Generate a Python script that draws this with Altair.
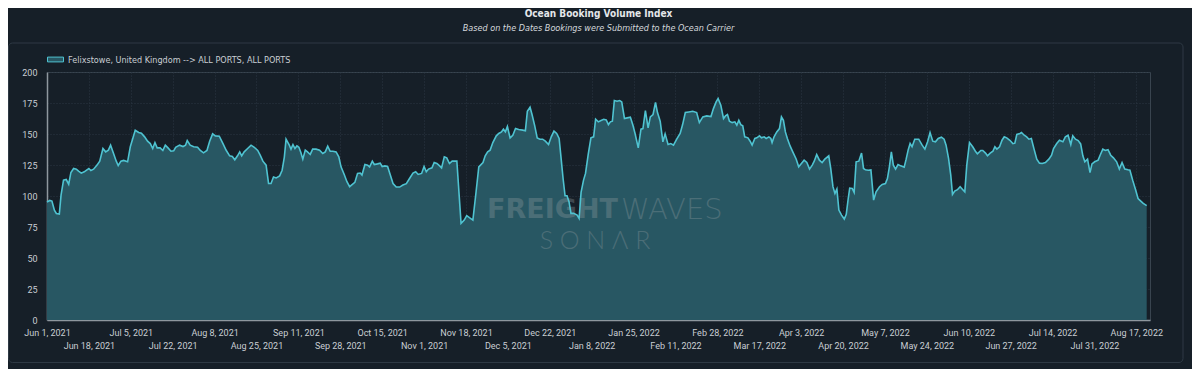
import altair as alt
import pandas as pd

# ---------------- data ----------------
start_date = "2021-06-01"
series_name = "Felixstowe, United Kingdom --> ALL PORTS, ALL PORTS"

# days after Jun 1, 2021 (read from the x position of each vertex)
day_offset = [
    0.0, 1.1, 2.0, 3.0, 3.8, 5.0, 5.7, 6.7, 7.8, 8.8, 9.7, 10.8, 11.9, 12.8, 13.9, 15.1, 16.2, 17.0, 17.8, 18.9,
    20.3, 21.4, 22.7, 23.8, 24.9, 25.8, 27.0, 28.1, 28.9, 30.0, 31.1, 32.7, 33.8, 35.8, 37.2, 38.3, 39.6, 40.8,
    41.9, 42.9, 43.8, 44.7, 45.9, 47.0, 48.0, 49.1, 50.3, 51.4, 52.2, 53.8, 55.2, 56.2, 56.9, 58.1, 59.5, 61.1,
    62.2, 63.5, 64.9, 66.0, 67.2, 68.3, 69.9, 71.4, 72.7, 74.1, 75.2, 76.2, 77.3, 78.2, 79.0, 80.0, 81.4, 82.8,
    84.1, 85.5,
    86.5, 87.6, 88.9, 89.9, 90.9, 91.9, 93.0, 94.4, 95.4, 96.3, 97.0, 98.2, 99.0, 99.8, 100.6, 101.4, 102.2,
    103.0, 103.8, 104.8, 105.7, 106.8, 107.8, 109.2, 110.6, 111.9, 112.9, 113.9, 114.9, 116.0, 117.3, 118.4,
    119.3, 120.6, 121.7, 122.8, 123.9, 124.9, 126.0, 127.1, 127.8, 129.0, 130.1, 130.9, 132.0, 132.8, 134.1,
    135.2, 136.0, 137.1, 138.2, 139.3, 140.4, 141.7, 143.1, 144.4, 145.8, 147.1, 148.5, 149.6, 150.6, 152.0,
    153.0, 153.9, 154.8, 156.2, 157.1, 158.2, 159.3, 160.1, 161.2, 162.2, 163.3, 164.4, 165.5, 166.3, 168.0,
    169.3, 170.3, 171.4, 172.8, 174.1, 175.2,
    176.9, 177.8, 178.8, 179.8, 180.9, 182.3, 183.3, 184.4, 185.2, 186.0, 186.8, 187.9, 189.0, 190.1, 191.4,
    193.0, 194.1, 194.9, 196.0, 196.8, 197.9, 198.9, 200.0, 201.1, 202.2, 203.5, 204.6, 205.7, 206.8, 207.8,
    208.6, 209.4, 210.2, 211.0, 211.8, 212.6, 213.7, 215.1, 215.9, 216.7, 217.7, 218.5, 219.6, 220.7, 221.8,
    222.6, 223.7, 224.8, 225.9, 226.9, 227.8, 228.6, 229.4, 230.2, 231.3, 232.4, 233.2, 234.3, 235.4, 236.7,
    237.8, 238.6, 239.9, 241.0, 241.8, 242.8, 243.9, 244.8, 245.9, 246.9, 247.7, 248.8, 249.9, 250.8, 252.0,
    253.1, 254.2, 255.5, 256.9, 257.9, 259.0, 260.4, 262.0, 263.6, 264.7,
    266.1, 267.7, 269.4, 270.4, 271.5, 272.3, 273.4, 274.5, 275.3, 276.1, 276.9, 278.0, 279.1, 279.9, 280.7,
    281.5, 282.3, 283.1, 284.4, 285.3, 286.1, 287.2, 288.0, 289.1, 289.9, 291.0, 291.8, 292.9, 293.7, 294.2,
    295.0, 296.1, 297.2, 298.0, 298.8, 299.6, 300.4, 301.5, 302.6, 304.0, 305.0, 306.1, 307.2, 308.3, 309.4,
    310.5, 311.3, 312.3, 313.4, 314.5, 315.6, 317.2, 318.0, 318.9, 319.7, 320.5, 321.3, 322.4, 323.5, 324.3,
    325.1, 325.7, 326.7, 327.5, 328.3, 329.4, 330.5, 331.3, 332.1, 333.2, 334.3, 335.4, 336.4, 337.8, 338.9,
    340.2, 341.0, 341.8, 342.6, 343.4, 344.3, 345.3, 346.4, 347.8, 348.6, 349.4, 350.2, 351.0, 352.1, 353.7,
    355.1, 356.2, 357.3, 358.3, 359.4, 360.5, 361.6, 362.9, 364.0, 364.8, 365.8, 366.7, 367.4, 368.3, 369.4,
    370.5, 371.6, 372.4, 373.2, 374.3, 375.6, 376.7, 377.5, 378.9, 379.7, 380.8, 381.6, 382.7, 383.8, 384.6,
    385.4, 386.5, 387.5, 388.4, 389.4, 390.8, 391.9, 392.7, 393.5, 394.8, 395.4, 396.5, 397.5, 398.4, 399.4,
    400.5, 401.6, 402.7, 403.8, 405.1, 406.5, 407.6, 408.4, 409.7, 410.8, 412.2, 413.2, 414.3, 415.4, 416.2,
    417.3, 418.4, 419.4, 420.3, 421.1, 422.2, 423.2, 424.0, 425.1, 426.5, 427.3, 428.4, 429.4, 430.5, 431.6,
    432.7, 434.0, 435.1, 436.2, 437.3, 438.6, 439.4, 440.5, 441.6, 442.7, 443.8, 444.8, 446.2,
]

booking_index = [
    95.0, 96.4, 95.9, 88.6, 85.9, 85.4, 100.7, 112.8, 113.3, 109.5, 119.0, 122.2, 121.6, 120.0, 118.4, 119.5,
    121.1, 122.2, 120.6, 121.6, 124.9, 128.1, 138.3, 135.6, 137.0, 141.0, 134.3, 128.1, 124.6, 128.1, 128.7,
    127.6, 139.7, 153.0, 151.2, 150.6, 147.7, 144.2, 142.3, 138.3, 143.1, 138.8, 138.8, 136.7, 141.0, 138.8,
    136.1, 136.4, 139.3, 141.0, 139.9, 141.0, 144.7, 141.0, 139.7, 139.3, 136.7, 134.8, 136.7, 144.2, 150.1,
    148.5, 148.2, 142.3, 136.9, 132.4, 131.9, 129.2, 132.4, 135.6, 132.4, 135.6, 138.3, 141.0, 139.3, 136.7,
    132.9, 128.1, 124.9, 110.1, 110.1, 115.4, 114.6, 116.2, 120.8, 131.4, 145.8, 141.5, 137.8, 141.5, 138.3,
    140.4, 139.3, 135.1, 129.7, 137.0, 135.6, 133.5, 137.8, 137.8, 137.0, 134.3, 135.6, 140.2, 136.1, 136.1,
    135.6, 131.6, 123.5, 117.4, 111.5, 107.5, 109.3, 111.0, 118.2, 118.5, 116.9, 125.4, 124.9, 123.5, 128.1,
    125.4, 125.9, 126.5, 123.8, 124.3, 123.8, 116.9, 110.1, 107.2, 107.2, 108.8, 109.9, 114.1, 118.5, 119.6,
    117.4, 118.2, 123.8, 119.6, 121.7, 122.7, 127.0, 126.2, 124.3, 122.7, 131.6, 130.8, 126.2, 128.1, 128.1,
    128.1, 77.9, 80.6, 84.1, 82.5, 80.6, 103.4, 123.5,
    127.0, 132.4, 135.6, 137.0, 143.1, 148.5, 150.4, 151.7, 153.9, 151.7, 156.0, 146.9, 149.0, 154.4, 153.6,
    153.1, 152.6, 168.3, 171.6, 165.7, 156.6, 146.9, 145.8, 145.8, 144.2, 141.5, 147.7, 152.3, 150.4, 146.4,
    130.3, 114.1, 100.2, 100.2, 95.4, 86.0, 86.0, 84.6, 81.9, 102.9, 112.8, 118.2, 133.5, 146.9, 147.7,
    161.9, 159.8, 160.9, 161.9, 161.4, 157.6, 159.8, 160.3, 177.0, 176.4, 177.0, 175.9, 162.5, 163.0, 163.6,
    156.6, 150.4, 138.8, 153.9, 154.4, 168.9, 155.0, 163.8, 165.7, 175.4, 167.3, 160.3, 143.7, 150.1, 141.5,
    142.3, 141.0, 145.8, 150.4, 157.6, 167.3, 167.8, 168.3, 167.3, 159.2,
    163.8, 164.6, 164.1, 170.5, 175.9, 178.6, 173.2, 162.5, 164.6, 165.7, 160.3, 159.2, 159.8, 157.1, 161.1,
    157.6, 156.6, 147.7, 146.9, 144.2, 141.0, 146.4, 146.9, 148.5, 146.9, 147.7, 146.4, 147.7, 146.4, 143.1,
    147.7, 151.7, 154.4, 163.8, 161.1, 151.7, 146.4, 140.4, 135.6, 129.7, 123.5, 126.2, 128.9, 127.0, 121.7,
    124.9, 128.1, 133.5, 128.9, 127.0, 129.7, 132.4, 122.2, 107.5, 102.1, 105.6, 88.6, 84.6, 81.4, 85.2,
    98.0, 106.4, 106.1, 102.9, 127.6, 128.1, 134.6, 122.2, 121.1, 120.8, 121.1, 96.7, 103.4, 107.5, 109.3,
    110.1, 114.1, 123.5, 135.6, 124.9, 121.7, 125.4, 124.3, 123.2, 129.7, 137.0, 142.3, 139.7, 145.8, 145.8,
    141.0, 137.8, 143.7, 151.2, 144.2, 143.7, 146.4, 147.4, 145.8, 141.0, 130.3, 116.9, 101.3, 104.0, 105.1,
    107.5, 105.1, 103.4, 124.9, 143.1, 139.7, 136.1, 134.0, 136.7, 136.7, 134.6, 132.4, 134.6, 136.1, 139.7,
    137.8, 139.7, 145.0, 147.7, 146.9, 144.7, 142.3, 142.6, 149.6, 150.4, 151.2, 149.0, 147.7, 145.8, 146.4,
    137.8, 129.7, 126.5, 126.2, 127.0, 129.7, 132.9, 138.3, 142.3, 145.0, 143.7, 147.7, 149.0, 141.5, 148.5,
    145.8, 144.7, 142.0, 132.4, 127.6, 129.7, 118.8, 125.9, 127.6, 128.9, 132.9, 137.8, 136.7, 137.3, 132.9,
    130.8, 127.6, 121.7, 127.0, 121.7, 121.1, 120.8, 112.8, 105.6, 98.0, 95.9, 94.0, 92.2,
]

x_tick_dates = [
    "2021-06-01", "2021-06-18", "2021-07-05", "2021-07-22", "2021-08-08", "2021-08-25", "2021-09-11",
    "2021-09-28", "2021-10-15", "2021-11-01", "2021-11-18", "2021-12-05", "2021-12-22", "2022-01-08",
    "2022-01-25", "2022-02-11", "2022-02-28", "2022-03-17", "2022-04-03", "2022-04-20", "2022-05-07",
    "2022-05-24", "2022-06-10", "2022-06-27", "2022-07-14", "2022-07-31", "2022-08-17",
]
x_domain = ["2021-06-01T00:00:00", "2022-08-22T13:00:00"]
y_ticks = [0, 25, 50, 75, 100, 125, 150, 175, 200]

# ---------------- styling ----------------
BG = "#161f28"
FILL = "#285763"
LINE = "#4fc3d1"
GRID = "#2b3742"
LABEL = "#c9ced3"
WM = "#8d999e"
AXIS_FONT = "Roboto"
TITLE_FONT = "Liberation Sans Narrow, DejaVu Sans Condensed, Roboto"


def to_dt(s):
    t = pd.Timestamp(s)
    return alt.DateTime(year=t.year, month=t.month, date=t.day, hours=t.hour)


df = pd.DataFrame({
    "date": pd.Timestamp(start_date) + pd.to_timedelta(day_offset, unit="D"),
    "value": booking_index,
    "series": series_name,
})

label_expr = (
    "(round((datum.value - datetime(2021, 5, 1)) / 86400000 / 17) % 2 == 1)"
    " ? ['', timeFormat(datum.value, '%b %-d, %Y')]"
    " : timeFormat(datum.value, '%b %-d, %Y')"
)

x_enc = alt.X(
    "date:T",
    title=None,
    scale=alt.Scale(domain=[to_dt(d) for d in x_domain]),
    axis=alt.Axis(
        values=[to_dt(d) for d in x_tick_dates],
        labelExpr=label_expr,
        labelOverlap=False,
        labelFlush=False,
        labelLineHeight=13,
        labelPadding=8,
        labelFont=AXIS_FONT,
        labelFontSize=9,
        labelColor=LABEL,
        ticks=False,
        tickSize=0,
        domainColor="#8e979e",
        domainWidth=1.5,
        grid=True,
        gridColor=GRID,
        gridDash=[1, 2],
        gridWidth=1,
    ),
)
y_enc = alt.Y(
    "value:Q",
    title=None,
    stack=None,
    scale=alt.Scale(domain=[0, 200], nice=False),
    axis=alt.Axis(
        values=y_ticks,
        tickCount=len(y_ticks),
        labelOverlap=False,
        labelFlush=False,
        labelPadding=10,
        labelFont=AXIS_FONT,
        labelFontSize=9,
        labelColor=LABEL,
        ticks=False,
        tickSize=0,
        domainColor="#8e979e",
        domainWidth=1.5,
        grid=True,
        gridColor=GRID,
        gridDash=[1, 2],
        gridWidth=1,
    ),
)

base = alt.Chart(df)

area = base.mark_area(opacity=1).encode(
    x=x_enc,
    y=y_enc,
    color=alt.Color(
        "series:N",
        scale=alt.Scale(range=[FILL]),
        legend=alt.Legend(
            title=None,
            orient="none",
            legendX=0,
            legendY=-21,
            padding=0,
            symbolType="M-1,-0.3H1V0.3H-1Z",
            symbolSize=256,
            symbolStrokeColor=LINE,
            symbolStrokeWidth=1,
            symbolOpacity=1,
            labelOffset=4,
            labelFont=TITLE_FONT,
            labelFontSize=9,
            labelColor=LABEL,
            labelLimit=400,
        ),
    ),
)

line = base.mark_line(color=LINE, strokeWidth=1.6, interpolate="linear").encode(
    x=x_enc, y=y_enc
)

panel = alt.Chart(pd.DataFrame({"k": [0]})).mark_rect(
    fill=None, stroke="#2e3944", strokeWidth=1, cornerRadius=4
).encode(
    x=alt.value(-38.5), x2=alt.value(1136), y=alt.value(-29), y2=alt.value(290.5)
)

wm_df = pd.DataFrame({"k": [0]})
wm_freight = alt.Chart(wm_df).mark_text(
    text="FREIGHT", font="DejaVu Sans", fontWeight="bold", fontSize=27,
    align="right", baseline="middle", color=WM, opacity=0.35,
).encode(x=alt.value(571), y=alt.value(138))
wm_waves = alt.Chart(wm_df).mark_text(
    text="WAVES", font="DejaVu Sans", fontWeight=200, fontSize=29,
    align="left", baseline="middle", color=WM, opacity=0.35,
).encode(x=alt.value(574), y=alt.value(138))
wm_sonar = alt.Chart(wm_df).mark_text(
    text="S    O    N    Λ    R", font="Lato", fontWeight=300, fontSize=25,
    align="center", baseline="middle", color=WM, opacity=0.35,
).encode(x=alt.value(548), y=alt.value(169))

chart = alt.layer(panel, area, wm_freight, wm_waves, wm_sonar, line).properties(
    width=1103,
    height=248,
    autosize=alt.AutoSizeParams(type="none"),
    padding={"left": 39, "top": 64, "right": 42, "bottom": 49},
    title=alt.TitleParams(
        text="Ocean Booking Volume Index",
        subtitle="Based on the Dates Bookings were Submitted to the Ocean Carrier",
        anchor="middle",
        offset=10,
        font=TITLE_FONT,
        fontSize=10,
        fontWeight="bold",
        color="#e4e7ea",
        subtitleFont=TITLE_FONT,
        subtitleFontSize=9,
        subtitleFontStyle="italic",
        subtitleColor="#d5d9dd",
        subtitlePadding=5,
    ),
).configure(background=BG).configure_view(stroke="#39444f", strokeWidth=1)

chart.save("out.html", embed_options={"renderer": "svg", "actions": False})
